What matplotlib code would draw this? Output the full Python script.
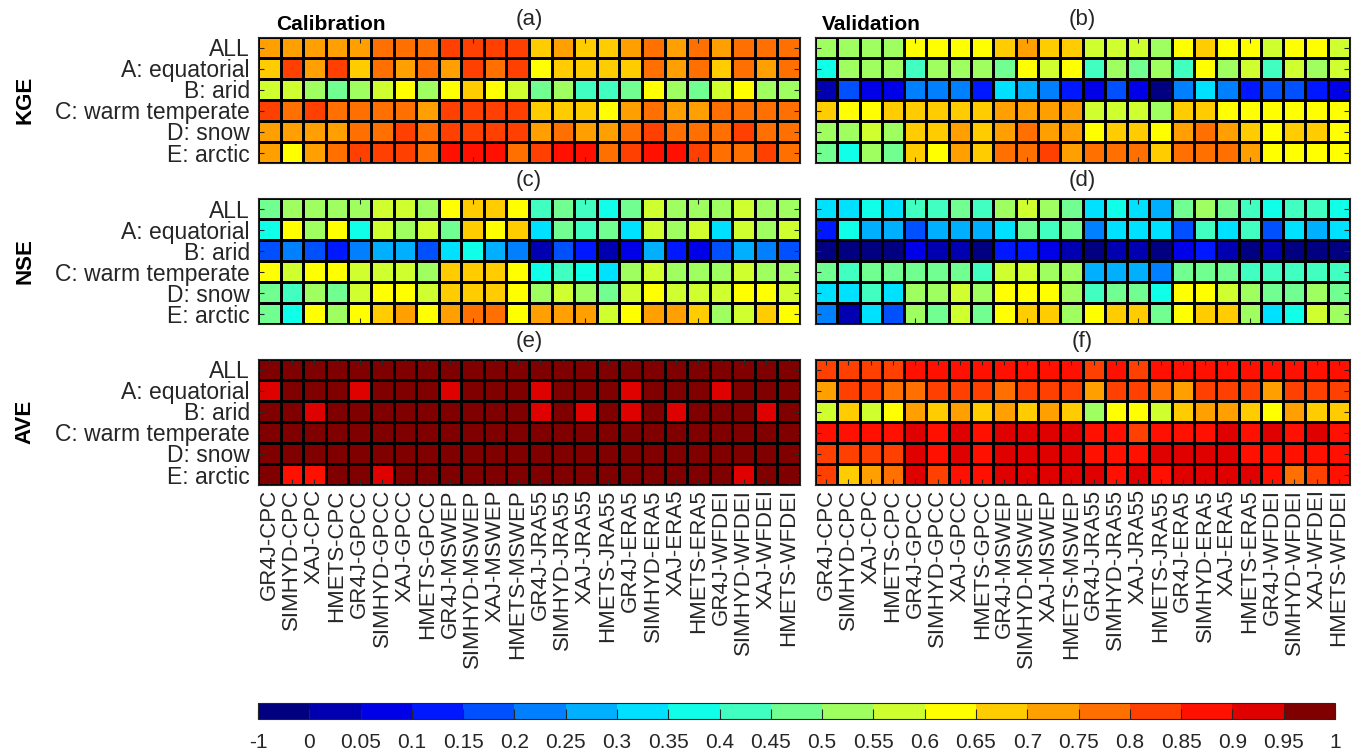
import numpy as np
import matplotlib
matplotlib.use('Agg')
import matplotlib.pyplot as plt
from matplotlib.colors import ListedColormap, BoundaryNorm

plt.rcParams['font.family'] = ['Liberation Sans', 'DejaVu Sans']
TXT = '#262626'

zones = ['ALL', 'A: equatorial', 'B: arid', 'C: warm temperate', 'D: snow', 'E: arctic']
models = ['GR4J-CPC', 'SIMHYD-CPC', 'XAJ-CPC', 'HMETS-CPC',
          'GR4J-GPCC', 'SIMHYD-GPCC', 'XAJ-GPCC', 'HMETS-GPCC',
          'GR4J-MSWEP', 'SIMHYD-MSWEP', 'XAJ-MSWEP', 'HMETS-MSWEP',
          'GR4J-JRA55', 'SIMHYD-JRA55', 'XAJ-JRA55', 'HMETS-JRA55',
          'GR4J-ERA5', 'SIMHYD-ERA5', 'XAJ-ERA5', 'HMETS-ERA5',
          'GR4J-WFDEI', 'SIMHYD-WFDEI', 'XAJ-WFDEI', 'HMETS-WFDEI']

bounds = [-1, 0, 0.05, 0.1, 0.15, 0.2, 0.25, 0.3, 0.35, 0.4, 0.45, 0.5,
          0.55, 0.6, 0.65, 0.7, 0.75, 0.8, 0.85, 0.9, 0.95, 1]
bound_labels = ['-1', '0', '0.05', '0.1', '0.15', '0.2', '0.25', '0.3', '0.35', '0.4', '0.45',
                '0.5', '0.55', '0.6', '0.65', '0.7', '0.75', '0.8', '0.85', '0.9', '0.95', '1']

# KGE calibration (a)
kge_cal = [
    [.72, .72, .72, .72, .72, .77, .77, .77, .82, .82, .82, .82, .67, .72, .67, .67, .72, .77, .72, .77, .72, .77, .77, .77],
    [.67, .82, .72, .82, .67, .77, .72, .77, .72, .82, .77, .82, .62, .67, .67, .67, .67, .77, .72, .77, .67, .77, .72, .77],
    [.57, .57, .52, .47, .52, .57, .62, .52, .62, .67, .62, .57, .47, .52, .42, .42, .47, .62, .52, .47, .57, .62, .52, .52],
    [.82, .77, .82, .77, .77, .77, .77, .72, .82, .82, .82, .82, .67, .67, .67, .62, .72, .77, .72, .72, .77, .77, .77, .77],
    [.72, .72, .72, .72, .77, .77, .82, .77, .82, .82, .82, .82, .72, .77, .72, .72, .77, .82, .77, .77, .77, .82, .77, .77],
    [.72, .62, .72, .77, .82, .82, .82, .77, .87, .87, .87, .77, .82, .87, .87, .77, .82, .87, .87, .82, .77, .77, .82, .77],
]
# KGE validation (b)
kge_val = [
    [.52, .52, .52, .52, .62, .62, .62, .62, .67, .72, .67, .67, .57, .57, .57, .52, .62, .67, .62, .62, .57, .62, .62, .57],
    [.37, .52, .52, .52, .42, .52, .52, .52, .47, .62, .57, .62, .42, .52, .47, .52, .42, .62, .52, .57, .42, .57, .52, .57],
    [.02, .17, .07, .07, .22, .22, .22, .12, .32, .27, .22, .12, .07, .17, .07, -.2, .22, .32, .22, .12, .17, .17, .12, .07],
    [.67, .62, .62, .67, .67, .67, .67, .67, .72, .72, .72, .72, .57, .57, .57, .52, .67, .67, .62, .62, .62, .62, .62, .62],
    [.52, .52, .57, .52, .67, .67, .72, .67, .72, .77, .72, .72, .62, .67, .67, .62, .72, .77, .72, .67, .62, .67, .67, .62],
    [.47, .37, .52, .47, .67, .62, .72, .67, .77, .77, .82, .72, .77, .77, .77, .67, .77, .77, .77, .72, .62, .62, .62, .62],
]
# NSE calibration (c)
nse_cal = [
    [.47, .52, .52, .52, .52, .57, .57, .52, .62, .67, .67, .62, .42, .47, .42, .37, .47, .57, .52, .52, .52, .57, .52, .52],
    [.37, .62, .52, .62, .37, .57, .52, .57, .47, .67, .62, .67, .32, .47, .42, .47, .32, .57, .52, .57, .32, .57, .52, .57],
    [.17, .22, .17, .12, .22, .27, .27, .17, .32, .37, .27, .22, .02, .17, .12, .02, .07, .27, .12, .07, .17, .27, .22, .17],
    [.62, .57, .62, .62, .57, .57, .57, .52, .67, .67, .67, .62, .37, .42, .37, .32, .52, .57, .52, .52, .52, .57, .52, .52],
    [.47, .42, .52, .47, .57, .62, .62, .57, .67, .67, .67, .62, .52, .57, .52, .47, .57, .62, .57, .57, .57, .62, .62, .57],
    [.47, .37, .62, .52, .62, .67, .72, .62, .72, .77, .77, .62, .72, .72, .72, .57, .62, .72, .72, .67, .52, .57, .67, .62],
]
# NSE validation (d)
nse_val = [
    [.32, .32, .37, .32, .42, .42, .47, .42, .52, .57, .52, .47, .32, .37, .32, .27, .47, .52, .47, .42, .37, .42, .42, .37],
    [.12, .37, .27, .27, .17, .27, .27, .27, .32, .47, .42, .47, .22, .32, .32, .32, .17, .42, .32, .42, .17, .32, .27, .32],
    [-.2, -.2, -.2, -.2, .07, .02, .02, -.2, .12, .12, .07, .02, -.2, .02, .02, -.2, .07, .12, .02, -.2, .02, -.2, -.2, -.2],
    [.47, .42, .47, .47, .47, .47, .47, .42, .57, .57, .52, .52, .27, .27, .27, .22, .47, .47, .47, .42, .42, .42, .42, .42],
    [.32, .32, .42, .32, .52, .52, .57, .52, .62, .62, .62, .52, .42, .47, .47, .37, .62, .62, .57, .52, .47, .47, .52, .47],
    [.22, .02, .32, .17, .52, .47, .57, .47, .62, .67, .67, .52, .62, .67, .67, .47, .62, .67, .67, .52, .32, .37, .57, .52],
]
# AVE calibration (e)
ave_cal = [
    [.97, .97, .97, .97, .97, .97, .97, .97, .97, .97, .97, .97, .97, .97, .97, .97, .97, .97, .97, .97, .97, .97, .97, .97],
    [.92, .97, .97, .97, .92, .97, .97, .97, .92, .97, .97, .97, .92, .97, .97, .97, .92, .97, .97, .97, .92, .97, .97, .97],
    [.97, .97, .92, .97, .97, .97, .97, .97, .97, .97, .97, .97, .92, .97, .92, .97, .92, .97, .92, .97, .97, .97, .92, .97],
    [.97, .97, .97, .97, .97, .97, .97, .97, .97, .97, .97, .97, .97, .97, .97, .97, .97, .97, .97, .97, .97, .97, .97, .97],
    [.97, .97, .97, .97, .97, .97, .97, .97, .97, .97, .97, .97, .97, .97, .97, .97, .97, .97, .97, .97, .97, .97, .97, .97],
    [.97, .87, .87, .97, .97, .92, .97, .97, .97, .97, .97, .97, .97, .97, .97, .97, .97, .97, .97, .97, .97, .92, .97, .97],
]
# AVE validation (f)
ave_val = [
    [.82, .82, .82, .82, .87, .87, .87, .87, .87, .87, .87, .87, .82, .87, .82, .87, .87, .87, .87, .87, .87, .87, .87, .87],
    [.72, .82, .82, .77, .77, .82, .82, .82, .77, .82, .82, .82, .72, .82, .82, .77, .72, .82, .82, .82, .72, .82, .82, .82],
    [.57, .67, .57, .62, .72, .67, .72, .67, .72, .67, .72, .67, .52, .62, .62, .57, .67, .72, .72, .67, .62, .72, .67, .67],
    [.87, .87, .87, .87, .92, .87, .92, .87, .92, .92, .92, .92, .87, .87, .82, .87, .87, .87, .92, .87, .92, .87, .92, .87],
    [.82, .82, .82, .82, .92, .87, .92, .87, .92, .92, .92, .92, .87, .87, .87, .92, .92, .92, .92, .87, .87, .87, .87, .87],
    [.82, .67, .72, .77, .92, .82, .87, .87, .92, .92, .92, .92, .92, .87, .92, .87, .92, .92, .92, .92, .87, .77, .82, .87],
]

cmap = ListedColormap(['#000080', '#0000B0', '#0000E8', '#0018FF', '#0050FF', '#0080FF', '#00B0FF',
                       '#00E0FF', '#10FFE8', '#40FFC0', '#70FF90', '#A0FF60', '#D0FF30', '#FFFF00',
                       '#FFCC00', '#FFA000', '#FF7000', '#FF4000', '#FF1000', '#DF0000', '#800000'])
norm = BoundaryNorm(bounds, cmap.N)

W, H = 1354, 753
fig = plt.figure(figsize=(W / 100, H / 100), dpi=100)


def px_axes(x0, y0, w, h):
    return fig.add_axes([x0 / W, 1 - (y0 + h) / H, w / W, h / H])


panels = [
    (kge_cal, '(a)', 258, 37, 'KGE', 'Calibration'),
    (kge_val, '(b)', 815, 37, None, 'Validation'),
    (nse_cal, '(c)', 258, 198, 'NSE', None),
    (nse_val, '(d)', 815, 198, None, None),
    (ave_cal, '(e)', 258, 359, 'AVE', None),
    (ave_val, '(f)', 815, 359, None, None),
]

nx, ny = len(models), len(zones)
mesh = None
for data, tag, x0, y0, metric, label in panels:
    w = 542 if x0 < 500 else 535
    ax = px_axes(x0, y0, w, 126)
    arr = np.array(data)
    mesh = ax.pcolormesh(np.arange(nx + 1) + 0.5, np.arange(ny + 1) + 0.5, arr,
                         cmap=cmap, norm=norm, edgecolors='k', linewidth=0.75)
    ax.set_xlim(0.5, nx + 0.5)
    ax.set_ylim(ny + 0.5, 0.5)
    for sp in ax.spines.values():
        sp.set_color(TXT)
        sp.set_linewidth(0.8)
    ax.set_yticks(np.arange(1, ny + 1))
    if x0 < 500:
        ax.set_yticklabels(zones, fontsize=16.5, color=TXT)
    else:
        ax.set_yticklabels([])
    ax.tick_params(axis='y', direction='in', left=True, right=True, length=4,
                   color=TXT, pad=6)
    if tag in ('(e)', '(f)'):
        ax.set_xticks(np.arange(1, nx + 1))
        ax.set_xticklabels(models, rotation=90, fontsize=16, color=TXT)
    else:
        ax.set_xticks([5, 10, 15, 20])
        ax.set_xticklabels([])
    ax.tick_params(axis='x', direction='in', top=True, bottom=True, length=4,
                   color=TXT, pad=3)
    ax.text(0.5, 1 + 18 / 126, tag, transform=ax.transAxes, ha='center', va='center',
            fontsize=16, color=TXT)
    if label:
        ax.text(0.033 if x0 < 500 else 0.013, 1 + 13 / 126, label, transform=ax.transAxes,
                ha='left', va='center', fontsize=15, fontweight='bold', color='k')
    if metric:
        ax.text(-0.43, 0.5, metric, transform=ax.transAxes, rotation=90, ha='center',
                va='center', fontsize=16, fontweight='bold', color='k')

cax = px_axes(258, 703, 1077, 16)
cb = fig.colorbar(mesh, cax=cax, orientation='horizontal', ticks=bounds, spacing='uniform')
cb.set_ticklabels(bound_labels)
cb.outline.set_edgecolor(TXT)
cb.outline.set_linewidth(0.8)
cax.tick_params(direction='in', length=7, color=TXT, labelsize=15, labelcolor=TXT, pad=10)

fig.savefig('out.png', dpi=100)
